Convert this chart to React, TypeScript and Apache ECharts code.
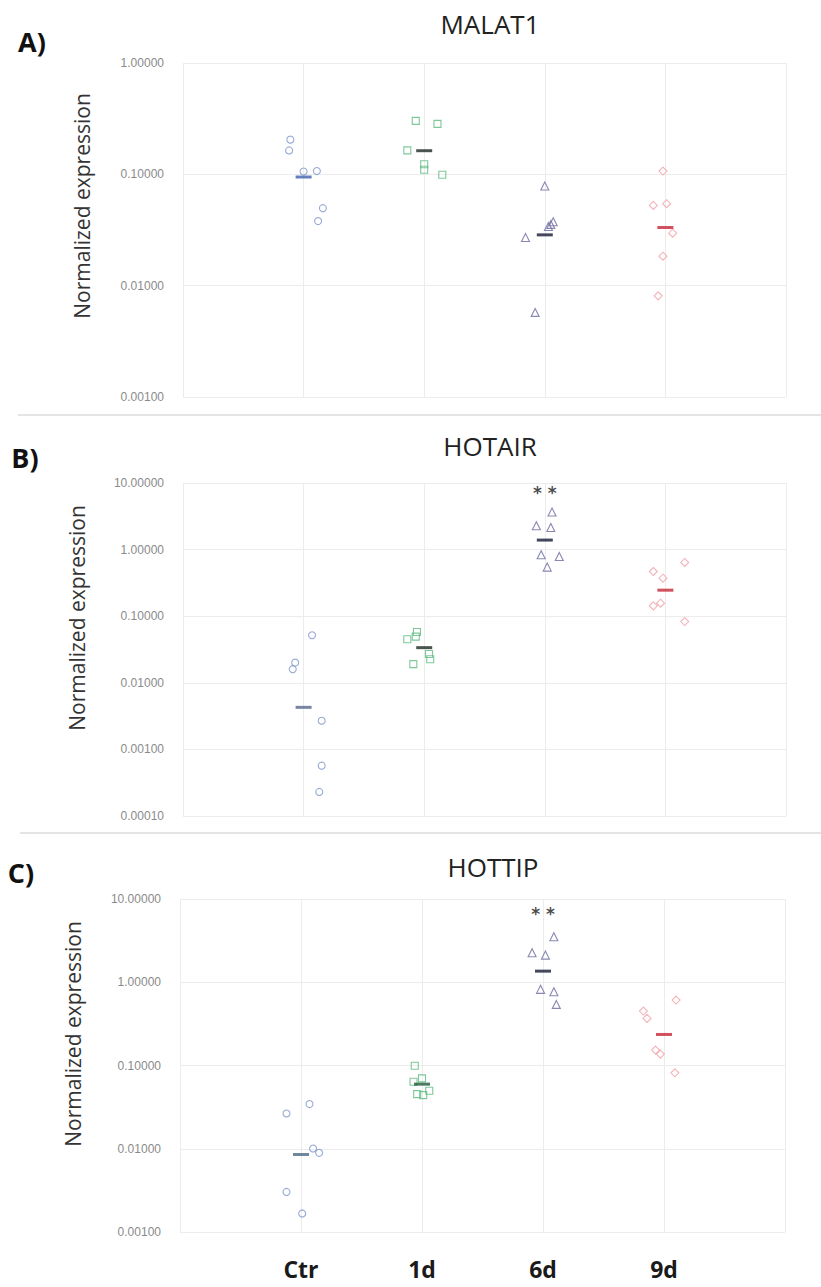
import React, { useEffect, useRef } from "react";
import * as echarts from "echarts";

// ---- categories ----
const groups = ["Ctr", "1d", "6d", "9d"];

// ---- Panel A: MALAT1 ----
const malat1Ctr = [0.205, 0.164, 0.106, 0.107, 0.0497, 0.038];
const malat1CtrX = [-0.11, -0.12, 0, 0.11, 0.16, 0.12];
const malat1D1 = [0.302, 0.284, 0.164, 0.123, 0.11, 0.099];
const malat1D1X = [-0.07, 0.11, -0.14, 0, 0, 0.15];
const malat1D6 = [0.0785, 0.0375, 0.0355, 0.034, 0.0271, 0.00575];
const malat1D6X = [0, 0.07, 0.05, 0.03, -0.16, -0.08];
const malat1D9 = [0.107, 0.0526, 0.0545, 0.0296, 0.0184, 0.0081];
const malat1D9X = [-0.02, -0.1, 0.01, 0.06, -0.02, -0.06];
const malat1Means = [0.0946, 0.163, 0.0286, 0.0333];

// ---- Panel B: HOTAIR ----
const hotairCtr = [0.0518, 0.0201, 0.016, 0.00269, 0.00057, 0.00023];
const hotairCtrX = [0.07, -0.07, -0.09, 0.15, 0.15, 0.13];
const hotairD1 = [0.058, 0.0494, 0.0451, 0.0271, 0.0226, 0.0191];
const hotairD1X = [-0.06, -0.07, -0.14, 0.04, 0.05, -0.09];
const hotairD6 = [3.66, 2.28, 2.15, 0.835, 0.787, 0.546];
const hotairD6X = [0.06, -0.07, 0.05, -0.03, 0.12, 0.02];
const hotairD9 = [0.641, 0.469, 0.372, 0.157, 0.143, 0.083];
const hotairD9X = [0.16, -0.1, -0.02, -0.04, -0.1, 0.16];
const hotairMeans = [0.00428, 0.0337, 1.39, 0.246];
const hotairSignif = 7.2;

// ---- Panel C: HOTTIP ----
const hottipCtr = [0.0344, 0.0265, 0.01007, 0.00893, 0.00303, 0.00167];
const hottipCtrX = [0.07, -0.12, 0.1, 0.15, -0.12, 0.01];
const hottipD1 = [0.0993, 0.07, 0.0637, 0.0497, 0.0453, 0.0441];
const hottipD1X = [-0.06, 0, -0.07, 0.06, -0.04, 0.01];
const hottipD6 = [3.52, 2.26, 2.12, 0.822, 0.769, 0.542];
const hottipD6X = [0.09, -0.09, 0.02, -0.02, 0.09, 0.11];
const hottipD9 = [0.611, 0.451, 0.368, 0.153, 0.137, 0.0817];
const hottipD9X = [0.1, -0.17, -0.14, -0.07, -0.03, 0.09];
const hottipMeans = [0.00853, 0.0597, 1.36, 0.236];
const hottipSignif = 6.6;

const panels = [
  {
    title: "MALAT1", tag: "A)", yMin: 0.001, yMax: 1, split: 3,
    pts: [malat1Ctr, malat1D1, malat1D6, malat1D9],
    jit: [malat1CtrX, malat1D1X, malat1D6X, malat1D9X],
    means: malat1Means, signif: null as number | null,
  },
  {
    title: "HOTAIR", tag: "B)", yMin: 0.0001, yMax: 10, split: 5,
    pts: [hotairCtr, hotairD1, hotairD6, hotairD9],
    jit: [hotairCtrX, hotairD1X, hotairD6X, hotairD9X],
    means: hotairMeans, signif: hotairSignif as number | null,
  },
  {
    title: "HOTTIP", tag: "C)", yMin: 0.001, yMax: 10, split: 4,
    pts: [hottipCtr, hottipD1, hottipD6, hottipD9],
    jit: [hottipCtrX, hottipD1X, hottipD6X, hottipD9X],
    means: hottipMeans, signif: hottipSignif as number | null,
  },
];

// layout (pixels)
const gridBoxes = [
  { left: 183, width: 603, top: 63, height: 334 },
  { left: 183, width: 603, top: 483, height: 333 },
  { left: 180, width: 605, top: 899, height: 333 },
];
const titlePos = [
  [490, 24], [490, 446], [493, 867],
];
const tagPos = [
  [32, 41], [25, 457], [21, 872],
];
const yNamePos = [
  [82, 206], [77, 618], [73, 1034],
];

const symbols = ["circle", "rect", "triangle", "diamond"];
const symSizes = [7, 7, 8, 8];
const ptColors = ["#7d95c9", "#5cba80", "#6c6a9f", "#f0a0a8"];
const meanColors = [
  ["#3f62ad", "#1e2a24", "#161a33", "#c62633"],
  ["#56678f", "#1e2a24", "#161a33", "#c62633"],
  ["#4a6a84", "#1f5a38", "#161a33", "#c62633"],
];

export default function App() {
  const ref = useRef<HTMLDivElement>(null);
  useEffect(() => {
    document.body.style.margin = "0";
    const chart = echarts.init(ref.current!, null, { renderer: "svg" });
    const grid: any[] = [];
    const xAxis: any[] = [];
    const yAxis: any[] = [];
    const series: any[] = [];
    const graphic: any[] = [];

    panels.forEach((p, pi) => {
      grid.push({ ...gridBoxes[pi], containLabel: false });
      xAxis.push({
        type: "value", gridIndex: pi, min: 0, max: 5, interval: 1,
        axisLine: { show: false }, axisTick: { show: false },
        splitLine: { show: true, lineStyle: { color: "#ececec", width: 1 } },
        axisLabel: pi === 2
          ? {
              show: true, margin: 25,
              fontFamily: "Open Sans", fontWeight: "bold", fontSize: 23, lineHeight: 23,
              color: "#1a1a1a",
              formatter: (v: number) => groups[v - 1] ?? "",
            }
          : { show: false },
      });
      yAxis.push({
        type: "log", logBase: 10, gridIndex: pi, min: p.yMin, max: p.yMax, splitNumber: p.split,
        axisLine: { show: false }, axisTick: { show: false },
        splitLine: { show: true, lineStyle: { color: "#ececec", width: 1 } },
        axisLabel: {
          margin: 19, fontFamily: "Liberation Sans", fontSize: 12, color: "#8a8a8a",
          formatter: (v: number) => Number(v).toFixed(5),
        },
      });
      p.pts.forEach((vals, gi) => {
        series.push({
          type: "scatter", xAxisIndex: pi, yAxisIndex: pi,
          symbol: symbols[gi], symbolSize: symSizes[gi],
          itemStyle: { color: "rgba(255,255,255,0)", borderColor: ptColors[gi], borderWidth: 1.1 },
          data: vals.map((v, k) => [gi + 1 + p.jit[gi][k], v]),
          z: 2,
        });
      });
      series.push({
        type: "scatter", xAxisIndex: pi, yAxisIndex: pi,
        symbol: "rect", symbolSize: [16, 3],
        itemStyle: { color: (params: any) => meanColors[pi][params.dataIndex] },
        data: p.means.map((v, gi) => [gi + 1, v]),
        z: 3,
      });
      if (p.signif !== null) {
        series.push({
          type: "scatter", xAxisIndex: pi, yAxisIndex: pi,
          symbolSize: 0,
          data: [[3, p.signif]],
          label: {
            show: true, position: "inside", formatter: "* *",
            fontFamily: "DejaVu Sans", fontWeight: "bold", fontSize: 17, color: "#1a1a1a",
          },
          z: 4,
        });
      }
      graphic.push({
        type: "text", x: titlePos[pi][0], y: titlePos[pi][1],
        style: {
          text: p.title, font: "400 26px 'Open Sans'", fill: "#222",
          align: "center", verticalAlign: "middle",
        },
      });
      graphic.push({
        type: "text", x: tagPos[pi][0], y: tagPos[pi][1],
        style: {
          text: p.tag, font: "bold 27px 'Open Sans'", fill: "#111",
          align: "center", verticalAlign: "middle",
        },
      });
      graphic.push({
        type: "text", x: yNamePos[pi][0], y: yNamePos[pi][1], rotation: Math.PI / 2,
        style: {
          text: "Normalized expression", font: "400 21px 'Open Sans'", fill: "#333",
          align: "center", verticalAlign: "middle",
        },
      });
    });
    graphic.push({
      type: "line", shape: { x1: 18, y1: 415, x2: 821, y2: 415 },
      style: { stroke: "#e4e4e4", lineWidth: 2 },
    });
    graphic.push({
      type: "line", shape: { x1: 20, y1: 833, x2: 821, y2: 833 },
      style: { stroke: "#e4e4e4", lineWidth: 2 },
    });

    chart.setOption({
      animation: false,
      backgroundColor: "#ffffff",
      grid, xAxis, yAxis, series, graphic,
    });
    return () => chart.dispose();
  }, []);
  return <div ref={ref} style={{ width: 821, height: 1287 }} />;
}
